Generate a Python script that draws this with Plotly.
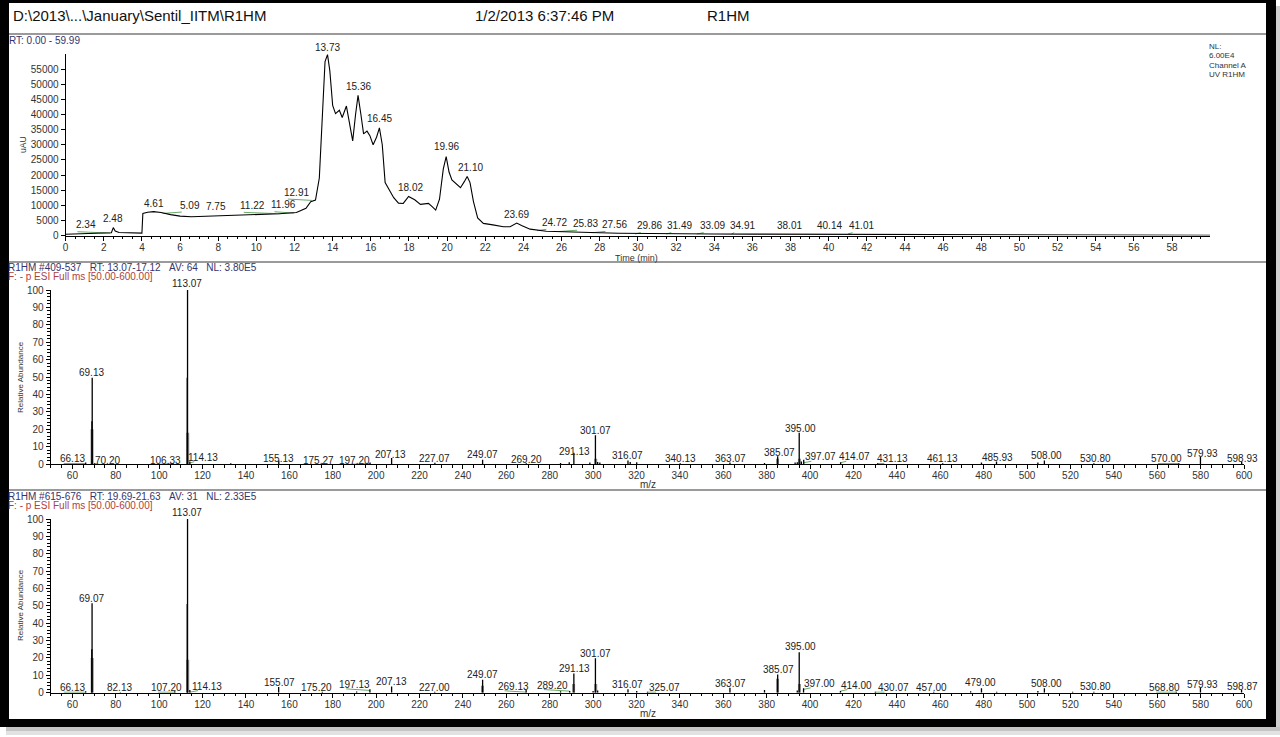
import plotly.graph_objects as go

# ---------------- DATA ----------------
# UV chromatogram (Time in min, intensity in uAU)
rt_min = [0, 1.0, 2.0, 2.4, 2.5, 2.6, 2.8, 3.5, 4.0, 4.05, 4.3, 4.61, 5.0, 5.5, 6.0, 6.6, 7.2,
          7.9, 9.0, 10.0, 11.2, 12.1, 12.6, 12.85, 13.1, 13.3, 13.45, 13.6, 13.73, 13.85, 14.0,
          14.15, 14.35, 14.5, 14.72, 14.9, 15.05, 15.2, 15.33, 15.48, 15.62, 15.8, 15.95, 16.12,
          16.3, 16.45, 16.6, 16.75, 17.0, 17.2, 17.45, 17.7, 17.98, 18.3, 18.6, 19.02, 19.2, 19.4,
          19.6, 19.8, 19.95, 20.1, 20.25, 20.5, 20.7, 20.9, 21.05, 21.2, 21.38, 21.6, 21.9, 22.4,
          22.95, 23.3, 23.65, 23.9, 24.35, 25.2, 26.0, 27.0, 28.0, 29.0, 30.0, 32.0, 34.0, 36.0,
          38.0, 40.0, 42.0, 44.0, 47.0, 50.0, 55.0, 59.99]
uau = [400, 550, 750, 900, 2600, 1500, 1000, 800, 800, 7300, 7700, 7900, 7600, 6900, 6400, 6200, 6300,
       6600, 6700, 6900, 7200, 7600, 9000, 11200, 11700, 19000, 41000, 57500, 59800, 54500, 43000,
       40300, 41400, 39000, 42800, 37000, 31300, 40000, 46300, 40000, 33600, 34500, 33000, 30000,
       32500, 35600, 30000, 17500, 14500, 12500, 10700, 10600, 12900, 11800, 10300, 10600, 9600, 8400,
       12000, 22000, 26100, 21000, 18400, 17000, 15800, 17800, 19500, 17500, 11200, 5800, 4000, 3500,
       2900, 2900, 4100, 3300, 2100, 1400, 1200, 1000, 900, 750, 650, 550, 500, 450,
       400, 350, 300, 250, 180, 150, 100, 80]

chrom_labels = ["2.34", "2.48", "4.61", "5.09", "7.75", "11.22", "11.96", "12.91", "13.73", "15.36",
                "16.45", "18.02", "19.96", "21.10", "23.69", "24.72", "25.83", "27.56", "29.86",
                "31.49", "33.09", "34.91", "38.01", "40.14", "41.01"]

# Spectrum 1: R1HM #409-537 (m/z, relative abundance)
ms1_mz = [66.13, 69.0, 69.13, 70.20, 106.33, 112.93, 113.07, 114.13, 133.0, 155.13, 175.27, 197.20,
          207.13, 227.07, 249.07, 269.20, 285.0, 289.0, 291.13, 298.5, 301.07, 302.1, 303.1, 316.07,
          317.1, 320.1, 340.13, 363.07, 379.0, 385.07, 393.1, 394.1, 395.00, 396.0, 397.07, 414.07,
          431.13, 461.13, 479.0, 485.93, 505.0, 508.00, 530.80, 570.00, 579.93, 598.93]
ms1_int = [0.8, 24.5, 49.5, 0.5, 0.6, 49.5, 100, 1.5, 0.4, 2.0, 0.4, 0.8,
           3.5, 0.7, 2.5, 0.5, 0.6, 1.0, 6.5, 0.8, 16.5, 1.2, 0.8, 2.0,
           1.2, 1.0, 0.5, 0.8, 0.6, 4.5, 0.8, 1.0, 18.0, 1.5, 2.5, 1.0,
           0.5, 0.5, 0.8, 1.5, 0.8, 2.0, 0.5, 0.5, 4.0, 1.5]
ms1_shoulder_mz = [69.06, 113.15, 301.2, 385.0, 395.1]
ms1_shoulder_int = [20, 18, 3, 3, 3]
ms1_labels = ["66.13", "69.13", "70.20", "106.33", "113.07", "114.13", "155.13", "175.27", "197.20",
              "207.13", "227.07", "249.07", "269.20", "291.13", "301.07", "316.07", "340.13", "363.07",
              "385.07", "395.00", "397.07", "414.07", "431.13", "461.13", "485.93", "508.00", "530.80",
              "570.00", "579.93", "598.93"]

# Spectrum 2: R1HM #615-676
ms2_mz = [66.13, 68.95, 69.07, 82.13, 107.20, 112.93, 113.07, 114.13, 155.07, 175.20, 191.0, 197.13,
          207.13, 227.00, 249.07, 269.13, 285.0, 289.20, 291.13, 300.0, 301.07, 302.1, 316.07, 320.1,
          325.07, 363.07, 379.0, 385.07, 394.1, 395.00, 397.00, 414.00, 430.07, 457.00, 474.0,
          479.00, 486.0, 505.0, 508.00, 521.0, 530.80, 568.80, 579.93, 598.87]
ms2_int = [0.8, 25.0, 51.5, 0.3, 0.8, 51.0, 100, 1.5, 3.3, 0.5, 0.7, 2.0,
           3.5, 0.5, 7.5, 1.5, 0.8, 1.0, 11.0, 1.0, 19.8, 1.2, 2.0, 1.0,
           0.5, 2.8, 1.5, 10.5, 1.2, 23.3, 2.5, 1.0, 0.5, 0.5, 0.8,
           2.5, 0.6, 1.0, 2.5, 0.6, 0.5, 0.5, 3.0, 1.5]
ms2_shoulder_mz = [69.12, 113.15, 249.0, 291.0, 301.2, 385.0, 395.1]
ms2_shoulder_int = [20, 19, 4, 5, 5, 8, 5]
ms2_labels = ["66.13", "69.07", "82.13", "107.20", "113.07", "114.13", "155.07", "175.20", "197.13",
              "207.13", "227.00", "249.07", "269.13", "289.20", "291.13", "301.07", "316.07", "325.07",
              "363.07", "385.07", "395.00", "397.00", "414.00", "430.07", "457.00", "479.00", "508.00",
              "530.80", "568.80", "579.93", "598.87"]

time_ticks = list(range(0, 59, 2))
uau_ticks = list(range(0, 55001, 5000))
rel_ticks = list(range(0, 101, 10))
mz_ticks = list(range(60, 601, 20))

# ---------------- LABEL PLACEMENT (positions, not data) ----------------
# chromatogram labels: (x in min, bottom of text in uAU)
chrom_label_pos = [(1.07, 1400), (2.49, 3500), (4.61, 8400), (6.54, 7900), (7.86, 7600), (9.79, 7800),
                   (11.4, 8000), (12.1, 12200), (13.71, 59900), (15.36, 47000), (16.46, 36400),
                   (18.06, 13800), (19.95, 27300), (21.21, 20200), (23.63, 4800), (25.65, 2200),
                   (27.26, 1900), (28.75, 1500), (30.6, 1100), (32.2, 1100), (33.9, 1100), (35.5, 1100),
                   (37.97, 1100), (40.04, 1100), (41.7, 1100)]
# spectrum labels: (x in m/z, centre of text in %)
ms1_label_pos = [(60, 2.9), (68.8, 52.5), (76.4, 2.3), (102.7, 2.3), (112.8, 99.9), (120.2, 4.0),
                 (154.8, 3.4), (173.3, 2.3), (190.2, 2.3), (206.6, 5.7), (227.1, 3.4), (249, 5.3),
                 (269.3, 2.5), (291.2, 6.9), (301.3, 19.1), (316, 4.8), (340.2, 2.9), (363.3, 3.4),
                 (385.7, 6.5), (395.4, 20.5), (404.6, 4.2), (420.7, 4.2), (438.2, 2.9), (461.2, 2.9),
                 (486.4, 4.0), (509, 4.8), (531.6, 2.9), (564.3, 2.9), (580.9, 6.1), (599.4, 3.3)]
ms2_label_pos = [(60, 2.9), (68.8, 54.4), (81.6, 2.9), (103.4, 2.9), (112.8, 99.9), (121.9, 3.8),
                 (155.3, 6.0), (172.6, 2.9), (190.2, 4.8), (207, 6.7), (227.1, 2.9), (249, 10.6),
                 (263.2, 3.7), (281.3, 4.4), (291.2, 14.1), (301.3, 22.7), (316, 4.8), (333, 2.9),
                 (363.3, 5.4), (385.5, 13.1), (395.4, 26.8), (404.3, 5.4), (421.2, 4.4), (438.3, 2.9),
                 (455.9, 2.9), (478.5, 5.8), (509, 5.4), (531.6, 3.5), (563.5, 2.9), (580.9, 4.8),
                 (599.4, 3.8)]

W, H = 1280, 737
FONT = "Liberation Sans, Arial, sans-serif"
LEADER = "#6aa86a"


def px(x):
    return x / W


def py(y):
    return 1 - y / H


def sticks(mz, inten):
    xs, ys = [], []
    for m, i in zip(mz, inten):
        xs += [m, m, None]
        ys += [0, i, None]
    return xs, ys


fig = go.Figure()

fig.add_trace(go.Scatter(x=rt_min, y=uau, mode="lines", line=dict(color="black", width=1.1),
                         xaxis="x", yaxis="y", showlegend=False, hoverinfo="skip"))

for mz, it, smz, sit, xa, ya in [(ms1_mz, ms1_int, ms1_shoulder_mz, ms1_shoulder_int, "x2", "y2"),
                                 (ms2_mz, ms2_int, ms2_shoulder_mz, ms2_shoulder_int, "x3", "y3")]:
    gx, gy = sticks(smz, sit)
    fig.add_trace(go.Scatter(x=gx, y=gy, mode="lines", line=dict(color="#8a8a8a", width=3),
                             xaxis=xa, yaxis=ya, showlegend=False, hoverinfo="skip"))
    sx, sy = sticks(mz, it)
    fig.add_trace(go.Scatter(x=sx, y=sy, mode="lines", line=dict(color="black", width=1.3),
                             xaxis=xa, yaxis=ya, showlegend=False, hoverinfo="skip"))

tickfont = dict(family=FONT, size=10, color="#333")
common_ax = dict(showline=True, linecolor="black", linewidth=1, ticks="outside", tickcolor="black",
                 showgrid=False, zeroline=False, tickfont=tickfont, ticklen=4, tickwidth=1,
                 tickformat="d", automargin=False)
minor_common = dict(ticks="outside", ticklen=2.5, tickcolor="black", tick0=0)

fig.update_layout(
    width=W, height=H, margin=dict(l=0, r=0, t=0, b=0, pad=0), autosize=False,
    paper_bgcolor="white", plot_bgcolor="white", showlegend=False,
    xaxis=dict(domain=[px(65.6), px(1210)], range=[0, 59.99], anchor="y", tickvals=time_ticks,
               minor=dict(dtick=0.5, **minor_common), ticklabelstandoff=-2, **common_ax),
    yaxis=dict(domain=[py(235.5), py(54)], range=[0, 60000], anchor="x", tickvals=uau_ticks,
               **common_ax),
    xaxis2=dict(domain=[px(50.7), px(1244)], range=[50, 600], anchor="y2", tickvals=mz_ticks,
                minor=dict(dtick=5, **minor_common), ticklabelstandoff=-2, **common_ax),
    yaxis2=dict(domain=[py(464), py(290)], range=[0, 100], anchor="x2", tickvals=rel_ticks,
                minor=dict(dtick=2, **minor_common), **common_ax),
    xaxis3=dict(domain=[px(50.7), px(1244)], range=[50, 600], anchor="y3", tickvals=mz_ticks,
                minor=dict(dtick=5, **minor_common), ticklabelstandoff=-2, **common_ax),
    yaxis3=dict(domain=[py(692.7), py(519)], range=[0, 100], anchor="x3", tickvals=rel_ticks,
                minor=dict(dtick=2, **minor_common), **common_ax),
)

ann = []
shapes = []
lab_font = dict(family=FONT, size=10, color="#222")


def leader(x0, y0, x1, y1, xr, yr):
    shapes.append(dict(type="line", xref=xr, yref=yr, x0=x0, y0=y0, x1=x1, y1=y1,
                       line=dict(color=LEADER, width=1), layer="below"))


for txt, (x, y) in zip(chrom_labels, chrom_label_pos):
    ann.append(dict(x=x, y=y, xref="x", yref="y", text=txt, showarrow=False, font=lab_font,
                    xanchor="center", yanchor="bottom", borderpad=0))
    peak_t = float(txt)
    if abs(peak_t - x) > 0.35:
        leader(x - 0.45, y - 150, peak_t, y - 600, "x", "y")

for labels, pos, mzs, ints, xr, yr in [(ms1_labels, ms1_label_pos, ms1_mz, ms1_int, "x2", "y2"),
                                       (ms2_labels, ms2_label_pos, ms2_mz, ms2_int, "x3", "y3")]:
    for txt, (x, y) in zip(labels, pos):
        if y > 99:
            ann.append(dict(x=x, y=100, xref=xr, yref=yr, text=txt, showarrow=False, font=lab_font,
                            xanchor="center", yanchor="bottom", borderpad=0))
        else:
            ann.append(dict(x=x, y=y, xref=xr, yref=yr, text=txt, showarrow=False, font=lab_font,
                            xanchor="center", yanchor="middle", borderpad=0))
        peak = float(txt)
        if abs(peak - x) > 3:
            bottom = y - 2.6
            leader(x - 4, bottom, peak, max(bottom - 0.9, 0.3), xr, yr)


def ptext(x, y, text, size=9, color="#222", xanchor="left", angle=0):
    ann.append(dict(x=px(x), y=py(y), xref="paper", yref="paper", text=text, showarrow=False,
                    font=dict(family=FONT, size=size, color=color), xanchor=xanchor,
                    yanchor="middle", textangle=angle, borderpad=0))


SP = "\u00a0\u00a0\u00a0"
ptext(12, 15, "D:\\2013\\...\\January\\Sentil_IITM\\R1HM", size=15, color="#111")
ptext(474, 15, "1/2/2013 6:37:46 PM", size=15, color="#111")
ptext(706, 15, "R1HM", size=15, color="#111")
ptext(8, 41, "RT: 0.00 - 59.99", size=10, color="#34346e")
ptext(1208, 46.5, "NL:", size=8, color="#333")
ptext(1208, 55.8, "6.00E4", size=8, color="#333")
ptext(1208, 65.1, "Channel A", size=8, color="#333")
ptext(1208, 74.4, "UV R1HM", size=8, color="#333")
ptext(23, 145, "uAU", size=8.5, color="#333", xanchor="center", angle=-90)
ptext(636, 257.5, "Time (min)", size=9, color="#333", xanchor="center")

ptext(7, 267, "R1HM #409-537" + SP + "RT: 13.07-17.12" + SP + "AV: 64" + SP + "NL: 3.80E5", size=10, color="#34346e")
ptext(7, 277, "F: - p ESI Full ms [50.00-600.00]", size=10, color="#b04040")
ptext(20, 377, "Relative Abundance", size=8, color="#333", xanchor="center", angle=-90)
ptext(648, 484, "m/z", size=10, color="#333", xanchor="center")

ptext(7, 496, "R1HM #615-676" + SP + "RT: 19.69-21.63" + SP + "AV: 31" + SP + "NL: 2.33E5", size=10, color="#34346e")
ptext(7, 505, "F: - p ESI Full ms [50.00-600.00]", size=10, color="#b04040")
ptext(20, 605, "Relative Abundance", size=8, color="#333", xanchor="center", angle=-90)
ptext(648, 713, "m/z", size=10, color="#333", xanchor="center")

fig.update_layout(annotations=ann)


def prect(x0, y0, x1, y1, color):
    return dict(type="rect", xref="paper", yref="paper", x0=px(x0), x1=px(x1), y0=py(y1), y1=py(y0),
                fillcolor=color, line=dict(width=0), layer="above")


shapes += [
    prect(9, 33, 1266, 35, "#9a9a9a"),
    prect(9, 261, 1266, 263, "#9a9a9a"),
    prect(9, 489, 1266, 491, "#9a9a9a"),
    prect(0, 0, 1276, 3, "black"),
    prect(0, 0, 9, 727, "black"),
    prect(1266, 0, 1276, 727, "black"),
    prect(0, 719, 1276, 727, "black"),
    prect(1276, 6, 1280, 733, "#cfcfcf"),
    prect(6, 727, 1280, 731, "#c4c4c4"),
    prect(6, 731, 1280, 735, "#e2e2e2"),
]
fig.update_layout(shapes=shapes)

fig.write_html("out.html", config={"displayModeBar": False},
               post_script="document.body.style.margin='0px';document.body.style.overflow='hidden';")
